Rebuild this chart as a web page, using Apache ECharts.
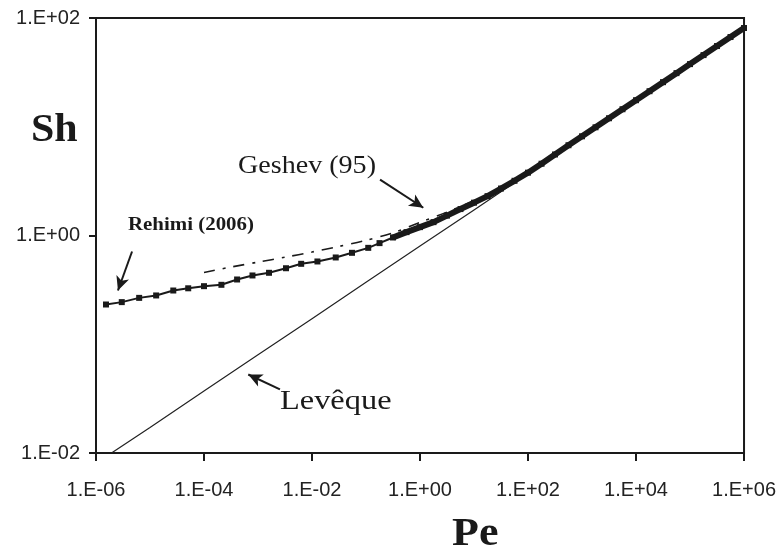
<!DOCTYPE html>
<html>
<head>
<meta charset="utf-8">
<script src="https://cdn.jsdelivr.net/npm/echarts@6/dist/echarts.min.js"></script>
<style>
  html, body { margin: 0; padding: 0; background: #fff; }
  #chart { width: 779px; height: 553px; }
</style>
</head>
<body>
<div id="chart"></div>
<script>
// Sherwood number vs Peclet number, log-log

// Rehimi (2006): sparse markers at low Pe, dense run toward high Pe
const rehimiPe = [1.53e-6, 3.0e-6, 6.3e-6, 1.3e-5, 2.7e-5, 5.1e-5, 1.0e-4, 2.1e-4, 4.1e-4, 7.9e-4,
  1.6e-3, 3.3e-3, 6.3e-3, 1.26e-2, 2.75e-2, 5.5e-2, 0.11,
  0.178, 0.316, 0.562, 1, 1.78, 3.16, 5.62, 10, 17.8, 31.6, 56.2, 100,
  178, 316, 562, 1000, 1780, 3160, 5620, 1e4, 1.78e4, 3.16e4, 5.62e4, 1e5,
  1.78e5, 3.16e5, 5.62e5, 1e6];
const rehimiSh = [0.232, 0.244, 0.267, 0.281, 0.312, 0.327, 0.342, 0.352, 0.394, 0.429,
  0.454, 0.50, 0.549, 0.577, 0.628, 0.693, 0.77,
  0.851, 0.959, 1.074, 1.194, 1.327, 1.524, 1.750, 2.004, 2.301, 2.704, 3.184, 3.784,
  4.571, 5.559, 6.761, 8.166, 9.886, 11.97, 14.49, 17.54, 21.23, 25.70, 31.12, 37.67,
  45.60, 55.21, 66.83, 80.91];

// Geshev (95)
const geshevPe = [1e-4, 3.16e-4, 1e-3, 3.16e-3, 1e-2, 3.16e-2, 0.1, 0.316, 1, 3.16, 10, 31.6,
  100, 316, 1000, 1e4, 1e5, 1e6];
const geshevSh = [0.457, 0.513, 0.569, 0.631, 0.705, 0.794, 0.902, 1.059, 1.318, 1.641, 2.089,
  2.754, 3.890, 5.623, 8.222, 17.58, 37.84, 81.28];

// Levêque
const levequePe = [2e-6, 1e-5, 1e-4, 1e-3, 1e-2, 0.1, 1, 10, 100, 1e3, 1e4, 1e5, 1e6];
const levequeSh = [0.0101, 0.0172, 0.0371, 0.080, 0.172, 0.371, 0.80, 1.72, 3.71, 8.0, 17.2, 37.1, 80];

// Axis ticks
const xTickValues = [1e-6, 1e-4, 1e-2, 1, 1e2, 1e4, 1e6];
const xTickLabels = ['1.E-06', '1.E-04', '1.E-02', '1.E+00', '1.E+02', '1.E+04', '1.E+06'];
const yTickValues = [1e-2, 1, 1e2];
const yTickLabels = ['1.E-02', '1.E+00', '1.E+02'];

// Annotation arrows: [tail, head] in data units
const rehimiArrow = [[4.65e-6, 0.713], [2.55e-6, 0.312]];
const geshevArrow = [[0.182, 3.27], [1.15, 1.80]];
const levequeArrow = [[2.55e-3, 0.0384], [6.6e-4, 0.0527]];

const zip = (xs, ys) => xs.map((x, i) => [x, ys[i]]);
const labelFor = (values, labels) => (v) => {
  let best = 0, bestD = Infinity;
  values.forEach((t, i) => {
    const d = Math.abs(Math.log10(t) - Math.log10(v));
    if (d < bestD) { bestD = d; best = i; }
  });
  return bestD < 0.01 ? labels[best] : '';
};

const ink = '#1a1a1a';
const sansFont = '"Liberation Sans", Arial, sans-serif';
const serifFont = '"Liberation Serif", "Times New Roman", serif';

const arrowLine = (pair) => ({
  type: 'line', data: [], silent: true,
  markLine: {
    silent: true, animation: false,
    symbol: ['none', 'arrow'], symbolSize: [10, 14],
    label: { show: false },
    lineStyle: { color: ink, width: 2, type: 'solid' },
    data: [[{ coord: pair[0] }, { coord: pair[1] }]]
  }
});

const note = (text, x, y, font, sx) => ({
  type: 'text', x, y, scaleX: sx,
  style: { text, font, fill: ink, verticalAlign: 'middle' }
});

const chart = echarts.init(document.getElementById('chart'), null, { renderer: 'canvas' });
chart.setOption({
  animation: false,
  backgroundColor: '#fff',
  grid: { left: 96, right: 34, top: 18, bottom: 100, show: true, borderColor: ink, borderWidth: 2, backgroundColor: 'transparent' },
  xAxis: {
    type: 'log', logBase: 10, min: 1e-6, max: 1e6,
    axisLine: { show: true, lineStyle: { color: ink, width: 2 } },
    axisTick: { show: true, customValues: xTickValues, length: 8, lineStyle: { color: ink, width: 2 } },
    minorTick: { show: false },
    splitLine: { show: false },
    axisLabel: {
      customValues: xTickValues, margin: 27,
      formatter: labelFor(xTickValues, xTickLabels),
      fontFamily: sansFont, fontSize: 20, color: '#222'
    }
  },
  yAxis: {
    type: 'log', logBase: 10, min: 1e-2, max: 1e2,
    axisLine: { show: true, lineStyle: { color: ink, width: 2 } },
    axisTick: { show: true, customValues: yTickValues, length: 7, lineStyle: { color: ink, width: 2 } },
    minorTick: { show: false },
    splitLine: { show: false },
    axisLabel: {
      customValues: yTickValues, margin: 16,
      formatter: labelFor(yTickValues, yTickLabels),
      fontFamily: sansFont, fontSize: 20, color: '#222'
    }
  },
  series: [
    {
      name: 'Levêque', type: 'line', data: zip(levequePe, levequeSh),
      showSymbol: false, lineStyle: { color: '#222', width: 1.2 }
    },
    {
      name: 'Geshev (95)', type: 'line', data: zip(geshevPe, geshevSh),
      showSymbol: false, smooth: 0.3,
      lineStyle: { color: ink, width: 1.6, type: [11, 8, 3, 8] }
    },
    {
      name: 'Rehimi band', type: 'line',
      data: zip(rehimiPe, rehimiSh).filter(p => p[0] >= 0.3),
      showSymbol: false, lineStyle: { color: ink, width: 6 }
    },
    {
      name: 'Rehimi (2006)', type: 'line', data: zip(rehimiPe, rehimiSh),
      symbol: 'rect', symbolSize: 6, showAllSymbol: true,
      itemStyle: { color: ink }, lineStyle: { color: ink, width: 2 }
    },
    arrowLine(rehimiArrow),
    arrowLine(geshevArrow),
    arrowLine(levequeArrow)
  ],
  graphic: [
    note('Sh', 31, 131, 'bold 40px ' + serifFont, 1.05),
    note('Pe', 452, 535, 'bold 40px ' + serifFont, 1.1),
    note('Rehimi (2006)', 128, 225, 'bold 19px ' + serifFont, 1.1),
    note('Geshev (95)', 238, 166, '26px ' + serifFont, 1.08),
    note('Levêque', 280, 402, '27px ' + serifFont, 1.2)
  ]
});
</script>
</body>
</html>
